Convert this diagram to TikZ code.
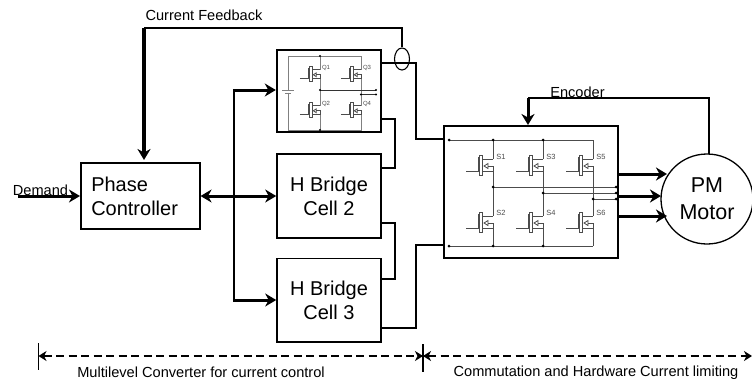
\documentclass[tikz,border=0pt]{standalone}
\usepackage{fontspec}
\setmainfont{Liberation Sans}
\usetikzlibrary{arrows.meta,shapes.geometric,calc}
\newcommand{\lbltxt}{\fontsize{14.6}{17}\selectfont}
\newcommand{\bigtxt}{\fontsize{20}{24}\selectfont}
\tikzset{
  x=1pt,y=-1pt,
  boxa/.style={draw,line width=1.6pt,rectangle,inner sep=0pt,align=center,font=\bigtxt},
  boxb/.style={boxa,line width=2.4pt},
  wire/.style={line width=2pt,line cap=butt,line join=miter},
  fat/.style={line width=3pt,-{Stealth[length=11pt,width=13pt,inset=3.5pt]}},
  fatboth/.style={line width=3pt,{Stealth[length=11pt,width=13pt,inset=3.5pt]}-{Stealth[length=11pt,width=13pt,inset=3.5pt]}},
  dashy/.style={line width=2.6pt,dash pattern=on 8pt off 4.5pt,{Stealth[length=8pt,width=10pt,inset=2.5pt]}-{Stealth[length=8pt,width=10pt,inset=2.5pt]}},
  cir/.style={line width=.8pt,draw=black!70},
  cirg/.style={line width=.8pt,draw=black!50},
  dotc/.style={circle,fill=black,inner sep=0pt,minimum size=3pt},
  lab/.style={font=\lbltxt,inner sep=0pt},
  tinylab/.style={font=\fontsize{7.5}{8}\selectfont,text=black!70,inner sep=0pt},
  tinyq/.style={font=\fontsize{6}{7}\selectfont,text=black!70,inner sep=0pt},
  mosdev/.pic={
    \draw[cir] (-13.5,-10) rectangle (-10.5,10);
    \draw[cir] (-27,6) -- (-15,6) -- (-15,-8);
    \draw[cir] (-10,-6) -- (0,-6);
    \draw[cir] (-10,6) -- (0,6) -- (0,1) -- (-5,1);
    \draw[cir] (-5,-1.5) -- (-9,1) -- (-5,3.5) -- cycle;
  }
}
\begin{document}
\begin{tikzpicture}
\useasboundingbox (0,0) rectangle (752,381);
\fill[white] (0,0) rectangle (752,381);

% blocks
\node[boxa,minimum width=119pt,minimum height=66pt,align=left,text width=98pt] (phase) at (140.25,196) {Phase\\Controller};
\node[boxb,minimum width=104pt,minimum height=82pt] (cell1) at (329,91) {};
\node[boxa,minimum width=104pt,minimum height=83.5pt] (cell2) at (329,196) {H Bridge\\ Cell 2};
\node[boxa,minimum width=104pt,minimum height=83.5pt] (cell3) at (329,300.25) {H Bridge\\ Cell 3};
\node[boxb,minimum width=174pt,minimum height=132pt] (inv) at (531,192) {};
\node[draw,ellipse,line width=1.3pt,minimum width=92pt,minimum height=90pt,inner sep=0pt,align=center,font=\fontsize{21.5}{27}\selectfont] (motor) at (707,199) {PM\\Motor};
\node[draw,ellipse,line width=1.1pt,minimum width=15pt,minimum height=22pt,inner sep=0pt] (sense) at (402,59) {};

% free ends and corners
\coordinate (dem) at (18,196);
\coordinate (fbk) at (144,28);
\coordinate (bus1) at (234,90);
\coordinate (bus3) at (234,300);
\coordinate (enctop) at (709,98);
\coordinate (encb) at (528,98);

% main connections
\draw[fat] (dem) -- (phase.west);
\draw[wire] (sense.north) -- (402,28) -- (fbk);
\draw[fat,line width=3.2pt] (fbk) -- (144,160);
\draw[fatboth] (phase.east) -- (cell2.west);
\draw[line width=2.4pt] (bus1) -- (bus3);
\draw[fat] ([xshift=-1.2pt]bus1) -- (bus1 -| cell1.west);
\draw[fat] ([xshift=-1.2pt]bus3) -- (bus3 -| cell3.west);

\draw[wire] (381,63) -- (416,63) -- (416,139) -- (444,139);
\draw[wire] (381,119) -- (395,119) -- (395,168) -- (381,168);
\draw[wire] (381,223) -- (395,223) -- (395,279) -- (381,279);
\draw[wire] (381,328) -- (416,328) -- (416,245) -- (444,245);

\draw[wire] (709,154) -- (enctop) -- (encb);
\draw[fat] (encb) -- (528,125);

\draw[fat] (618,174) -- (667,174);
\draw[fat] (618,196) -- (661,196);
\draw[fat] (618,216) -- (667,216);

% labels
\node[lab] (lcf) at (204,15) {Current Feedback};
\node[lab] (ldem) at (40.5,190) {Demand};
\node[lab] (lenc) at (577.5,92) {Encoder};
\node[lab] (lml) at (201,372) {Multilevel Converter for current control};
\node[lab] (lcm) at (596,373) {Commutation and Hardware Current limiting};

% extents
\coordinate (ea) at (38.5,356);
\coordinate (eb) at (423,356);
\coordinate (ec) at (752,356);
\draw[line width=1.2pt] (38.5,343) -- (38.5,370);
\draw[line width=1.2pt] (423,344) -- (423,372);
\draw[dashy] (ea) -- (eb);
\draw[dashy] (eb) -- (ec);

% H bridge schematic in cell 1
\draw[cirg] (288,90) -- (288,56) -- (361,56) -- (361,69.5);
\draw[cirg] (288,92.5) -- (288,130) -- (361,130) -- (361,114.5);
\draw[cirg] (361,78.5) -- (361,105.5);
\draw[cirg] (320,56) -- (320,69.5);
\draw[cirg] (320,78.5) -- (320,105.5);
\draw[cirg] (320,114.5) -- (320,130);
\draw[cirg] (282,90) -- (294,90);
\draw[cirg] (285,93) -- (291,93);
\pic[scale=.75] at (320,74) {mosdev};
\pic[scale=.75] at (320,110) {mosdev};
\pic[scale=.75] at (361,74) {mosdev};
\pic[scale=.75] at (361,110) {mosdev};
\draw[line width=.8pt,black!80] (320,90) -- (376,90);
\draw[line width=.8pt,black!80] (361,94.5) -- (376,94.5);
\foreach \ptc in {(320,56),(320,90),(320,130),(376,90),(361,94.5),(376,94.5)} \node[dotc,minimum size=2.4pt] at \ptc {};
\node[tinyq] at (326,68) {Q1};
\node[tinyq] at (326,104) {Q2};
\node[tinyq] at (367,68) {Q3};
\node[tinyq] at (367,104) {Q4};

% inverter schematic
\draw[cir] (449,140) -- (593,140);
\draw[cir] (449,246) -- (593,246);
\foreach \legx in {493,543,593}{
  \draw[cir] (\legx,140) -- (\legx,159);
  \draw[cir] (\legx,171) -- (\legx,216);
  \draw[cir] (\legx,228) -- (\legx,246);
  \pic at (\legx,165) {mosdev};
  \pic at (\legx,222) {mosdev};
}
\draw[cir] (493,187) -- (616,187);
\draw[cir] (543,193) -- (616,193);
\draw[cir] (593,199) -- (616,199);
\foreach \ptc in {(449,140),(493,140),(543,140),(449,246),(493,246),(543,246),(493,187),(543,193),(593,199),(616,187),(616,193),(616,199)} \node[dotc] at \ptc {};
\node[tinylab] at (501,157) {S1};
\node[tinylab] at (501,213) {S2};
\node[tinylab] at (551,157) {S3};
\node[tinylab] at (551,213) {S4};
\node[tinylab] at (601,157) {S5};
\node[tinylab] at (601,213) {S6};
\end{tikzpicture}
\end{document}
